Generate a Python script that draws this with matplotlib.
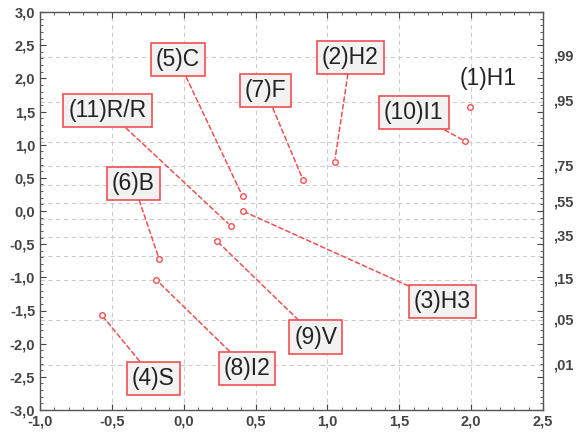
import matplotlib
matplotlib.use('Agg')
import matplotlib.pyplot as plt
from matplotlib.ticker import MultipleLocator, FuncFormatter
from statistics import NormalDist

plt.rcParams['font.family'] = ['Liberation Sans', 'DejaVu Sans']

# points (residual vs expected normal value)
labels = ['(1)H1', '(2)H2', '(3)H3', '(4)S', '(5)C', '(6)B', '(7)F', '(8)I2', '(9)V', '(10)I1', '(11)R/R']
xs = [1.99, 1.05, 0.41, -0.57, 0.41, -0.17, 0.83, -0.19, 0.23, 1.96, 0.33]
ys = [1.57, 0.74, 0.00, -1.57, 0.22, -0.73, 0.47, -1.04, -0.45, 1.05, -0.23]
# where the label boxes sit
lab_x = [2.12, 1.16, 1.80, -0.21, -0.04, -0.35, 0.57, 0.44, 0.92, 1.60, -0.53]
lab_y = [1.99, 2.32, -1.36, -2.52, 2.28, 0.42, 1.81, -2.37, -1.90, 1.48, 1.51]
boxed = [False] + [True] * 10

# right axis probabilities
probs = [.01, .05, .15, .25, .35, .45, .55, .65, .75, .85, .95, .99]
prob_labels = ['.01', '.05', '.15', '.35', '.55', '.75', '.95', '.99']

red = '#f05050'
tick_col = '#444444'

fig = plt.figure(figsize=(5.82, 4.38), dpi=100)
ax = fig.add_axes([40/582, 1-410/438, (543-40)/582, (410-12)/438])

ax.set_xlim(-1.0, 2.5)
ax.set_ylim(-3.0, 3.0)
ax.xaxis.set_major_locator(MultipleLocator(0.5))
ax.yaxis.set_major_locator(MultipleLocator(0.5))
ax.xaxis.set_minor_locator(MultipleLocator(0.1))
ax.yaxis.set_minor_locator(MultipleLocator(0.1))
fmt = FuncFormatter(lambda v, p: ('%.1f' % v).replace('.', ','))
ax.xaxis.set_major_formatter(fmt)
ax.yaxis.set_major_formatter(fmt)
ax.tick_params(which='both', direction='in', top=True, right=True, colors=tick_col,
               labelsize=10.5, labelcolor=tick_col)
ax.tick_params(which='major', length=4)
ax.tick_params(which='minor', length=2)
for lbl in ax.get_xticklabels() + ax.get_yticklabels():
    lbl.set_fontweight('bold')
for s in ax.spines.values():
    s.set_color('#555555')
    s.set_linewidth(1.0)

# grid
for xv in [-0.5, 0.0, 0.5, 1.0, 1.5, 2.0]:
    ax.axvline(xv, color='#cccccc', ls=(0, (4, 3)), lw=0.8, zorder=0)
nd = NormalDist()
for p in probs:
    ax.axhline(nd.inv_cdf(p), color='#cccccc', ls=(0, (4, 3)), lw=0.8, zorder=0)

# right probability labels
for pl in prob_labels:
    p = float(pl)
    ax.text(1.02, nd.inv_cdf(p), pl.replace('.', ','), transform=ax.get_yaxis_transform(),
            ha='left', va='center', fontsize=10.5, fontweight='bold', color=tick_col)

ax.plot(xs, ys, 'o', ms=4, mfc='white', mec=red, mew=1.0, ls='none', zorder=3)

for i in range(len(labels)):
    bbox = None
    arrow = None
    if boxed[i]:
        bbox = dict(boxstyle='square,pad=0.22', fc='#f2f2f2', ec=red, lw=1.2)
        arrow = dict(arrowstyle='-', color=red, ls=(0, (3, 2)), lw=1.1,
                     shrinkA=0, shrinkB=3)
    ax.annotate(labels[i], xy=(xs[i], ys[i]), xytext=(lab_x[i], lab_y[i]),
                ha='center', va='center', fontsize=16.5, color='#222222', bbox=bbox,
                arrowprops=arrow, zorder=4)

fig.savefig('out.png', dpi=100)
